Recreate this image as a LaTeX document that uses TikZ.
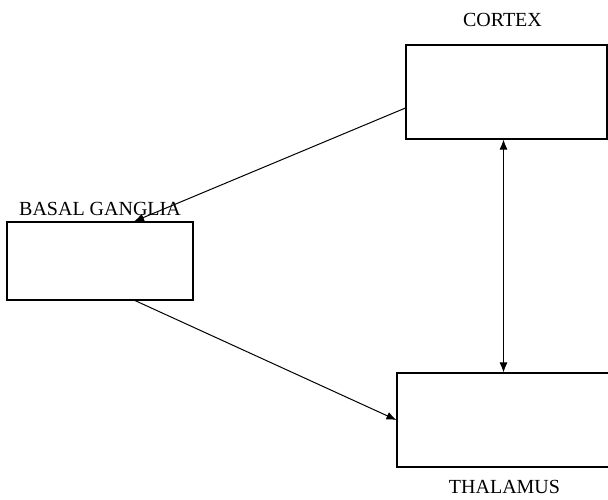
\documentclass[tikz,border=0pt]{standalone}
\usepackage{fontspec}
\setmainfont{Liberation Serif}
\usepackage{tikz}
\usetikzlibrary{arrows.meta, positioning}

\begin{document}
\begin{tikzpicture}[
  x=1pt, y=1pt,
  regbox/.style={draw, line width=1.1pt, inner sep=0pt},
  regname/.style={inner sep=0pt, font=\fontsize{20}{24}\selectfont},
  link/.style={line width=1pt, -{Latex[length=10pt, width=8pt]}}
]
  \useasboundingbox (0,0) rectangle (608,499);

  \node[regbox, minimum width=201pt, minimum height=94pt] (cortex) at (506.5, 407) {};
  \node[regbox, minimum width=186pt, minimum height=78pt] (basal) at (100, 238) {};
  \node[regbox, minimum width=215pt, minimum height=94pt] (thalamus) at (504.5, 79) {};

  \node[regname, above=18pt of cortex, xshift=-4pt] (cortexname) {CORTEX};
  \node[regname, above=6pt of basal] (basalname) {BASAL GANGLIA};
  \node[regname, below=13pt of thalamus] (thalamusname) {THALAMUS};

  \draw[link] ([yshift=-16pt]cortex.west) -- ([xshift=34pt]basal.north);
  \draw[link] ([xshift=35pt]basal.south) -- (thalamus.west);
  \draw[link, {Latex[length=10pt, width=8pt]}-{Latex[length=10pt, width=8pt]}]
    ([xshift=-3pt]cortex.south) -- ([xshift=-3pt]cortex.south |- thalamus.north);
\end{tikzpicture}
\end{document}
